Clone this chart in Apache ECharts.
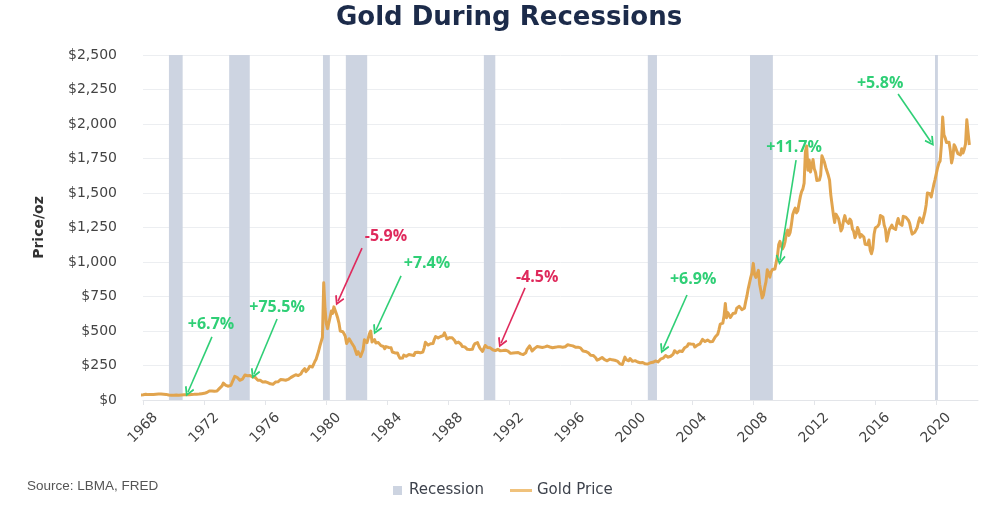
<!DOCTYPE html>
<html><head><meta charset="utf-8">
<script src="https://cdn.jsdelivr.net/npm/echarts@6/dist/echarts.min.js"></script>
<style>html,body{margin:0;padding:0;background:#fff;}#c{width:983px;height:509px;}</style>
</head><body><div id="c"></div>
<script>
// ---- data ----
const xTickYears = [1968,1972,1976,1980,1984,1988,1992,1996,2000,2004,2008,2012,2016,2020];
const yTicks = [0,250,500,750,1000,1250,1500,1750,2000,2250,2500];
// recession bands [start, end] in fractional years, as positioned in the picture
const recessionStart = [1969.7, 1973.65, 1979.8, 1981.3, 1990.35, 2001.1, 2007.8, 2019.93];
const recessionEnd   = [1970.6, 1975.0, 1980.25, 1982.7, 1991.1, 2001.7, 2009.3, 2020.12];
// monthly gold price (USD/oz), starting Jan of first year of each block
const gold1968_1979 = [
 35.2,35.2,37.5,38,41,41,39,39.5,40,39,40,41,
 42,42.5,43,43,43.5,41,42,41,40.5,40,36,35,
 35,35,35.2,35.8,35.9,35.5,35.3,35.4,36.2,37.5,37.4,37.4,
 37.9,38.7,38.9,39,40.5,40.1,41,42.7,42,42.5,42.9,43.5,
 45.8,48.3,48.3,49,54.6,62.1,65.7,67,65.5,64.9,62.9,63.9,
 65.1,74.2,84.4,90.5,102,123,120,106,103,100,94.8,106.5,
 129,150,172,175,163,154,143,154,151,159,181,195,
 176,180,178,170,167,164,165,163,144,142,143,139,
 131,131,132,128,126,125,117,109,114,116,130,133,
 132,136,148,149,146,141,143,145,149,158,162,160,
 173,178,183,175,177,183,188,206,212,227,206,207,
 227,245,242,239,257,279,295,301,355,392,392,455];
const gold1980_1989 = [
 850,665,555,517,513,600,645,627,675,661,623,594,
 557,500,498,495,480,461,409,410,444,437,413,410,
 384,374,330,350,334,315,339,364,436,422,415,447,
 481,500,420,432,438,413,422,416,412,394,382,388,
 371,387,395,381,377,378,348,348,341,340,341,320,
 303,299,304,325,317,317,317,329,323,326,325,322,
 345,339,346,340,342,343,348,376,418,423,398,391,
 408,401,409,438,460,450,450,461,460,465,466,487,
 477,442,444,452,451,451,437,431,413,406,420,419,
 404,388,390,385,371,367,375,365,362,367,394,409];
const gold1990_1999 = [
 410,416,393,374,369,352,362,395,389,380,381,378,
 384,364,363,358,357,367,368,356,349,358,360,361,
 354,354,345,338,337,341,353,343,345,344,335,334,
 329,329,330,342,367,372,392,378,355,364,374,383,
 387,382,384,378,381,386,385,380,391,389,384,379,
 379,377,382,391,385,387,386,383,383,383,386,387,
 400,405,396,393,392,385,383,387,383,381,378,369,
 355,347,352,344,344,341,324,324,323,324,306,289,
 289,297,296,308,299,292,293,284,289,296,294,291,
 287,288,286,282,277,262,256,257,265,311,293,283];
const gold2000_2009 = [
 284,300,286,280,275,285,282,275,273,270,266,272,
 266,262,263,261,272,270,268,273,283,283,276,276,
 282,296,294,303,314,322,314,310,319,317,319,333,
 357,359,341,328,355,356,351,360,379,379,390,407,
 414,405,406,404,384,392,398,400,406,420,439,442,
 424,423,434,428,422,431,424,437,456,470,476,510,
 550,555,557,610,700,596,633,632,598,585,627,629,
 631,665,655,679,667,655,665,665,713,754,806,803,
 889,923,990,909,888,890,939,839,829,740,760,816,
 858,943,924,890,928,945,934,949,996,1043,1127,1150];
const gold2010_2022 = [
 1118,1095,1113,1148,1205,1232,1193,1215,1271,1342,1370,1391,
 1356,1372,1424,1473,1510,1529,1572,1800,1840,1665,1739,1652,
 1656,1743,1675,1649,1591,1598,1594,1630,1770,1760,1722,1685,
 1671,1628,1593,1485,1414,1343,1286,1347,1349,1316,1275,1225,
 1244,1300,1336,1299,1287,1280,1311,1296,1239,1222,1176,1200,
 1250,1227,1179,1198,1199,1181,1129,1117,1125,1159,1086,1060,
 1097,1199,1246,1242,1260,1276,1337,1340,1326,1267,1238,1151,
 1192,1234,1231,1267,1246,1260,1236,1283,1315,1279,1282,1265,
 1331,1331,1325,1335,1303,1282,1238,1202,1198,1215,1221,1250,
 1292,1320,1300,1285,1284,1359,1413,1500,1510,1495,1471,1480,
 1560,1597,1592,1683,1715,1732,1846,2050,1921,1900,1866,1858,
 1867,1808,1718,1760,1850,1834,1807,1785,1775,1776,1821,1790,
 1817,1856,2030,1937,1848];
const goldBlockStartYears = [1968, 1980, 1990, 2000, 2010];
// annotations: text, label position [year, price], arrow from, arrow to
const annoText  = ['+6.7%', '+75.5%', '-5.9%', '+7.4%', '-4.5%', '+6.9%', '+11.7%', '+5.8%'];
const annoGood  = [true, true, false, true, false, true, true, true];
const annoLabel = [[1972.46,551],[1976.79,674],[1983.93,1188],[1986.62,993],[1993.84,891],[2004.07,877],[2010.69,1833],[2016.33,2297]];
const annoFrom  = [[1972.52,457],[1976.79,587],[1982.36,1101],[1984.92,899],[1993.05,812],[2003.67,761],[2010.82,1739],[2017.51,2217]];
const annoTo    = [[1970.95,58],[1975.28,188],[1980.79,717],[1983.28,507],[1991.48,413],[2002.10,370],[2009.77,1014],[2019.67,1870]];

// ---- build ----
const monthShift = -0.15; // dates in the picture sit slightly left of tick years
const goldBlocks = [gold1968_1979, gold1980_1989, gold1990_1999, gold2000_2009, gold2010_2022];
const goldData = [];
goldBlocks.forEach((blk, bi) => {
  blk.forEach((v, i) => { goldData.push([goldBlockStartYears[bi] + i / 12 + monthShift, v]); });
});
const GREEN = '#2fcf76', RED = '#df2a5c';
const BAND = '#cdd4e1', GOLD = '#e1a44e';
const arrowPath = 'path://M5,0 L10,8.5 L8.6,9.6 L5,3.6 L1.4,9.6 L0,8.5 Z';
const FONT = 'Open Sans';
const WFONT = 'DejaVu Sans';

const chart = echarts.init(document.getElementById('c'), null, {renderer: 'canvas'});
chart.setOption({
  animation: false,
  backgroundColor: '#fff',
  title: {
    text: 'Gold During Recessions', left: 331, top: 0,
    textStyle: {fontFamily: WFONT, fontSize: 26, fontWeight: 'bold', color: '#1c2b4a'}
  },
  grid: {left: 143, right: 5, top: 55, bottom: 109},
  legend: [
    {
      top: 478, left: 388, itemWidth: 9, itemHeight: 9,
      textStyle: {fontFamily: WFONT, fontSize: 15, fontWeight: 500, color: '#3d424c', padding: [0, 0, 0, 2]},
      data: [{name: 'Recession', icon: 'rect'}]
    },
    {
      top: 478, left: 505, itemWidth: 22, itemHeight: 3,
      textStyle: {fontFamily: WFONT, fontSize: 15, fontWeight: 500, color: '#3d424c'},
      data: [{name: 'Gold Price', icon: 'rect', itemStyle: {color: '#f0c27c'}}]
    }
  ],
  graphic: [{
    type: 'text', left: 27, top: 479,
    style: {text: 'Source: LBMA, FRED', fontFamily: 'Liberation Sans', fontSize: 13.5, fill: '#555'}
  }],
  xAxis: {
    type: 'value', min: 1968, max: 2022.75, interval: 4,
    axisLine: {show: true, lineStyle: {color: '#e3e5e9'}},
    axisTick: {show: true, length: 5, lineStyle: {color: '#e3e5e9'}, customValues: xTickYears},
    splitLine: {show: false},
    axisLabel: {
      customValues: xTickYears, rotate: 45, margin: 28, align: 'center', verticalAlign: 'middle',
      fontFamily: WFONT, fontSize: 14, color: '#444', formatter: v => String(Math.round(v))
    }
  },
  yAxis: {
    type: 'value', min: yTicks[0], max: yTicks[yTicks.length - 1], interval: 250,
    name: 'Price/oz', nameLocation: 'middle', nameGap: 97, nameRotate: 90,
    nameTextStyle: {fontFamily: WFONT, fontSize: 14, fontWeight: 'bold', color: '#333'},
    axisLine: {show: false}, axisTick: {show: false},
    splitLine: {lineStyle: {color: '#eceef1', width: 1}},
    axisLabel: {
      margin: 26, fontFamily: WFONT, fontSize: 14, color: '#444',
      formatter: v => '$' + v.toLocaleString('en-US')
    }
  },
  series: [
    {
      name: 'Recession', type: 'line', data: [], z: 1,
      itemStyle: {color: BAND}, lineStyle: {color: BAND},
      markArea: {
        silent: true,
        itemStyle: {color: BAND, opacity: 1},
        data: recessionStart.map((s, i) => [{xAxis: s}, {xAxis: recessionEnd[i]}])
      }
    },
    {
      name: 'Gold Price', type: 'line', data: goldData, z: 3,
      symbol: 'none', showSymbol: false,
      itemStyle: {color: GOLD},
      lineStyle: {color: GOLD, width: 3, join: 'round'},
      markLine: {
        silent: true, symbol: ['none', arrowPath], symbolSize: [10, 10],
        label: {show: false}, emphasis: {disabled: true},
        lineStyle: {type: 'solid', width: 1.6},
        data: annoFrom.map((f, i) => [
          {coord: f, lineStyle: {color: annoGood[i] ? GREEN : RED, type: 'solid', width: 1.6}},
          {coord: annoTo[i]}
        ])
      },
      markPoint: {
        silent: true, symbol: 'circle', symbolSize: 1,
        itemStyle: {color: 'rgba(0,0,0,0)'},
        label: {show: true, position: 'inside', fontFamily: FONT, fontSize: 16, fontWeight: 700},
        data: annoLabel.map((p, i) => ({
          name: annoText[i], coord: p,
          label: {formatter: annoText[i], color: annoGood[i] ? GREEN : RED}
        }))
      }
    }
  ]
});
</script></body></html>
